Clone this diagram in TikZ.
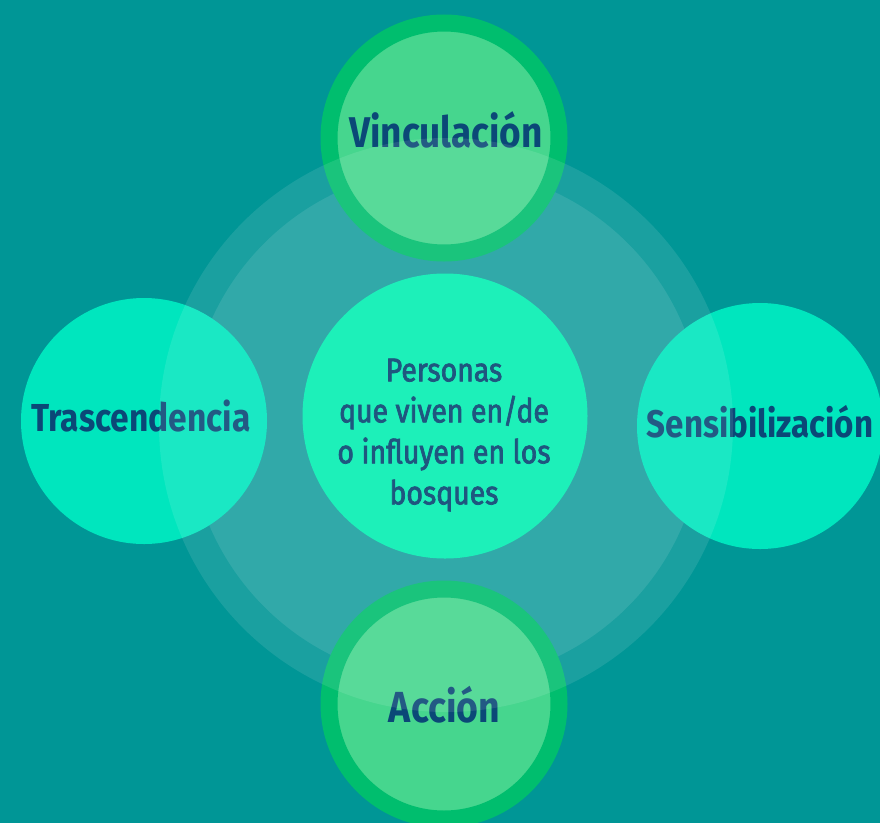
\documentclass[tikz,border=0pt]{standalone}
\usepackage{fontspec}
\newfontfamily\lblfont[FakeStretch=0.86]{Fira Sans}
\newfontfamily\ctrfont[FakeStretch=0.86,FakeBold=2.2]{Fira Sans}
\definecolor{bgteal}{HTML}{009696}
\definecolor{ringgreen}{HTML}{00BE6E}
\definecolor{discgreen}{HTML}{46D68E}
\definecolor{mint}{HTML}{00E6BE}
\definecolor{ctrmint}{HTML}{1DF0B9}
\definecolor{navy}{HTML}{0B4877}
\definecolor{ctrnavy}{HTML}{1F567F}
\tikzset{
  ringnode/.style={circle, inner sep=0pt, minimum size=230pt, line width=17pt,
    draw=ringgreen, fill=discgreen},
  mintnode/.style={circle, inner sep=0pt, minimum size=246pt, fill=mint},
  ctrnode/.style={circle, inner sep=0pt, minimum size=285pt, fill=ctrmint},
  lbl/.style={anchor=base, inner sep=0pt, text=navy, font=\lblfont\bfseries},
  ctrtext/.style={anchor=center, inner sep=0pt, text=ctrnavy, align=center,
    font=\ctrfont\fontsize{33}{41}\selectfont},
  veil/.style={fill=white, fill opacity=0.1}
}
\begin{document}
\begin{tikzpicture}[x=1pt,y=-1pt]
\useasboundingbox (0,0) rectangle (880,822);
\clip (0,0) rectangle (880,822);
\fill[bgteal] (-10,-10) rectangle (890,832);
\coordinate (hub) at (446,425);
\fill[veil] (hub) circle[radius=257pt];
\node[ringnode] (vinc) at (444,138) {};
\node[ringnode] (accion) at (444,704) {};
\node[mintnode] (trasc) at (144,421) {};
\node[mintnode] (sensi) at (760,426) {};
\node[lbl, font=\lblfont\bfseries\fontsize{43}{43}\selectfont] (vinct) at (446,147) {Vinculación};
\node[lbl, font=\lblfont\bfseries\fontsize{43.5}{43.5}\selectfont] (acciont) at (444.5,722) {Acción};
\node[lbl, font=\lblfont\bfseries\fontsize{39}{39}\selectfont] (trasct) at (141,431) {Trascendencia};
\node[lbl, font=\lblfont\bfseries\fontsize{38.5}{38.5}\selectfont] (sensit) at (760,437) {Sensibilización};
\fill[veil] (hub) circle[radius=287pt];
\node[ctrnode] (ctr) at (445,416) {};
\node[ctrtext] (ctrt) at (444,435) {Personas\\que viven en/de\\o influyen en los\\bosques};
\end{tikzpicture}
\end{document}
